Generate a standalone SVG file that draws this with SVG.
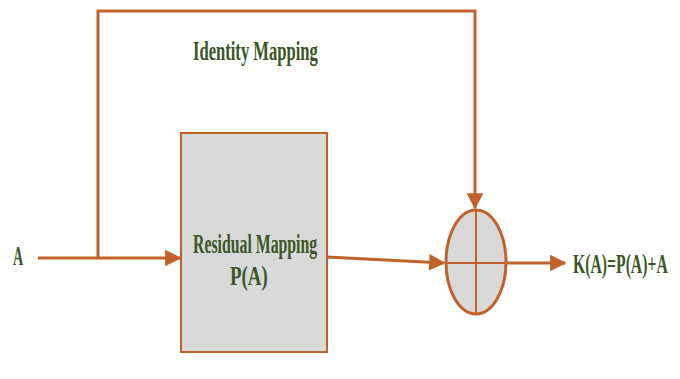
<svg xmlns="http://www.w3.org/2000/svg" width="680" height="379" viewBox="0 0 680 379">
<style>
.ln{stroke:#c2612a;stroke-width:3;fill:none}
.t{font-family:"Liberation Serif",serif;font-weight:bold;fill:#3b5626;font-size:27px}
</style>
<defs>
<marker id="ah" viewBox="0 0 10 10" refX="9" refY="5" markerWidth="6.5" markerHeight="5.5" markerUnits="strokeWidth" orient="auto">
<path d="M0,0 L10,5 L0,10 z" fill="#c2612a"/>
</marker>
</defs>
<rect width="680" height="379" fill="#fff"/>
<g id="connectors">
<polyline class="ln" points="98,258 98,11 475,11 475,208" marker-end="url(#ah)"/>
<line class="ln" x1="38" y1="258" x2="180" y2="258" marker-end="url(#ah)"/>
<line class="ln" x1="327" y1="257" x2="444" y2="263" marker-end="url(#ah)"/>
<line class="ln" x1="506" y1="263" x2="565" y2="263" marker-end="url(#ah)"/>
</g>
<g id="residual">
<rect x="181" y="133" width="146" height="219" fill="#d9d9d9" stroke="#c2612a" stroke-width="2"/>
<text class="t" transform="translate(193,253) scale(0.6,1)" textLength="207" lengthAdjust="spacingAndGlyphs">Residual Mapping</text>
<text class="t" transform="translate(230,285) scale(0.6,1)" textLength="63" lengthAdjust="spacingAndGlyphs">P(A)</text>
</g>
<g id="sum">
<ellipse cx="476" cy="262" rx="30" ry="52" fill="#d9d9d9" stroke="#c2612a" stroke-width="3"/>
<line x1="476" y1="210" x2="476" y2="314" stroke="#c2612a" stroke-width="2"/>
<line x1="446" y1="263" x2="506" y2="263" stroke="#c2612a" stroke-width="2"/>
</g>
<g id="labels">
<text class="t" transform="translate(193,60) scale(0.6,1)" textLength="208" lengthAdjust="spacingAndGlyphs">Identity Mapping</text>
<text class="t" transform="translate(13,265) scale(0.6,1)" textLength="17" lengthAdjust="spacingAndGlyphs">A</text>
<text class="t" transform="translate(573,273) scale(0.6,1)" textLength="158" lengthAdjust="spacingAndGlyphs">K(A)=P(A)+A</text>
</g>
</svg>
